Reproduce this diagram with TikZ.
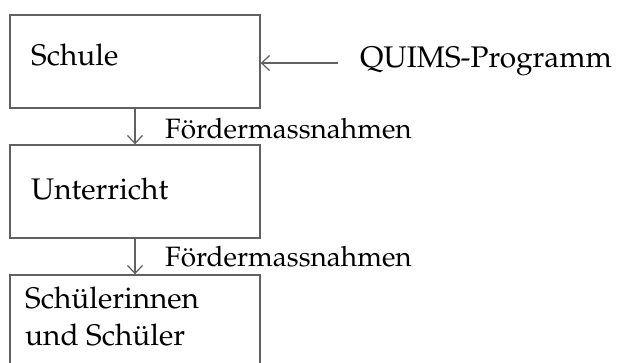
\documentclass[tikz,border=0pt]{standalone}
\usepackage[T1]{fontenc}
\usepackage{mathpazo}
\usetikzlibrary{arrows.meta}
\begin{document}
\begin{tikzpicture}[x=1pt,y=-1pt,
  box/.style={draw=black!62,line width=1.4pt,minimum width=250pt,inner sep=0pt},
  arr/.style={draw=black!62,line width=1.3pt,-{Straight Barb[length=8pt,width=15pt,line width=1.2pt]}},
  txt/.style={font=\fontsize{29.8}{37}\selectfont,inner sep=0pt,anchor=base west},
  lbl/.style={font=\fontsize{28}{34}\selectfont,inner sep=0pt,anchor=base west}]
\clip (0,0) rectangle (619,362);
\fill[white] (0,0) rectangle (619,362);
\node[box,minimum height=93pt] (b1) at (135,61.5) {};
\node[box,minimum height=93pt] (b2) at (135,191.5) {};
\node[box,minimum height=110pt] (b3) at (135,330) {};
\node[txt] (t1) at (31,65) {Schule};
\node[txt] (t2) at (31,199) {Unterricht};
\node[txt] (t3a) at (25,308) {Sch\"ulerinnen};
\node[txt] (t3b) at (25,345) {und Sch\"uler};
\node[txt] (q) at (360,67) {QUIMS-Programm};
\coordinate (qa) at (338,63);
\draw[arr] (qa) -- (b1.east |- qa);
\draw[arr] (b1) -- (b2);
\draw[arr] (b2) -- (b3);
\node[lbl] (l1) at (165,138) {F\"ordermassnahmen};
\node[lbl] (l2) at (165,266) {F\"ordermassnahmen};
\end{tikzpicture}
\end{document}
